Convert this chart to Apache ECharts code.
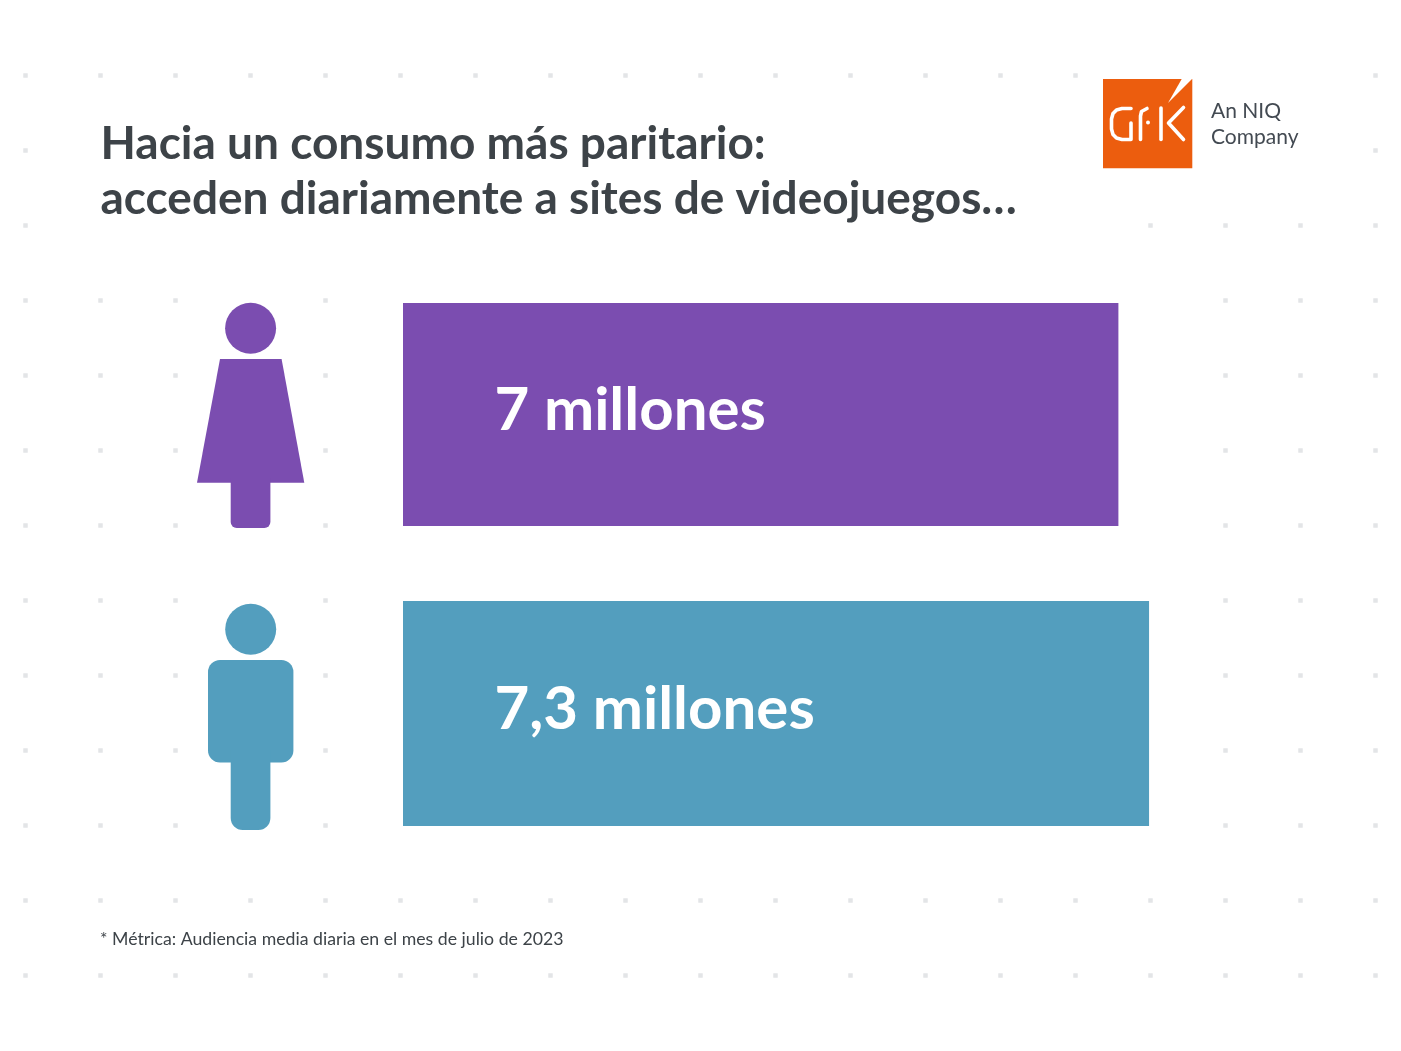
<!DOCTYPE html>
<html lang="es">
<head>
<meta charset="utf-8">
<title>Hacia un consumo más paritario</title>
<style>html,body{margin:0;padding:0;background:#fff}#c{width:1401px;height:1051px}</style>
<script src="https://cdn.jsdelivr.net/npm/echarts@6/dist/echarts.min.js"></script>
</head>
<body>
<div id="c"></div>
<script>
const titleLines = ['Hacia un consumo más paritario:', 'acceden diariamente a sites de videojuegos…'];
const footnote = '* Métrica: Audiencia media diaria en el mes de julio de 2023';
const categories = ['Mujeres', 'Hombres'];
const womenValues = [7, null];
const menValues = [null, 7.3];
const womenLabel = '7 millones';
const menLabel = '7,3 millones';
const womenColor = '#7b4db0';
const menColor = '#539ebe';
const logoLines = ['An NIQ', 'Company'];

// background dot pattern: columns present in each row of the 19 x 13 lattice
const allCols = [0,1,2,3,4,5,6,7,8,9,10,11,12,13,14,15,16,17,18];
const sideCols = [0,1,2,4,16,17,18];
const dotRows = [
  [0,1,2,3,4,5,6,7,8,9,10,11,12,13,14,18],
  [0,18],
  [0,15,16,17,18],
  sideCols, sideCols, sideCols, sideCols,
  sideCols, sideCols, sideCols, sideCols,
  allCols, allCols
];
const dots = [];
dotRows.forEach((cols, r) => cols.forEach(c => dots.push([c, r])));

const FONT = 'Lato, "Open Sans", sans-serif';
const DARK = '#3d4348';

function womanIcon(color) {
  return { type: 'group', z: 5, children: [
    { type: 'circle', shape: { cx: 250.6, cy: 328.3, r: 25.5 }, style: { fill: color } },
    { type: 'polygon', shape: { points: [[220, 359], [281.6, 359], [304.3, 482.8], [197, 482.8]] }, style: { fill: color } },
    { type: 'rect', shape: { x: 230.7, y: 478, width: 39.7, height: 50, r: [0, 0, 6, 6] }, style: { fill: color } }
  ]};
}
function manIcon(color) {
  return { type: 'group', z: 5, children: [
    { type: 'circle', shape: { cx: 250.7, cy: 629.3, r: 25.5 }, style: { fill: color } },
    { type: 'rect', shape: { x: 208, y: 660, width: 85.4, height: 102.4, r: 12 }, style: { fill: color } },
    { type: 'rect', shape: { x: 230.7, y: 750, width: 39.7, height: 80, r: [0, 0, 12, 12] }, style: { fill: color } }
  ]};
}
const logoStroke = { fill: null, stroke: '#fff', lineWidth: 3.6, lineCap: 'round', lineJoin: 'round' };
const logoLine = pts => ({ type: 'polyline', shape: { points: pts }, style: logoStroke });
const logo = { type: 'group', z: 5, children: [
  { type: 'rect', shape: { x: 1103, y: 79, width: 89.3, height: 89.3 }, style: { fill: '#ec5d0e' } },
  { type: 'polygon', shape: { points: [[1192.5, 78.5], [1182, 78.5], [1168, 103]] }, style: { fill: '#fff' } },
  logoLine([[1131, 108.5], [1122, 108.5], [1116.5, 110], [1113, 113.5], [1111.5, 119], [1111.5, 129], [1113, 134.5], [1116.5, 138], [1122, 139.5], [1131, 139.5], [1131, 123]]),
  logoLine([[1140.5, 139.5], [1140.5, 116], [1141.5, 111.5], [1147, 108.5]]),
  { type: 'circle', shape: { cx: 1148, cy: 122.5, r: 2 }, style: { fill: '#fff' } },
  logoLine([[1161, 108], [1161, 139.5]]),
  logoLine([[1183.5, 107.5], [1168.5, 123], [1183.5, 139.5]])
]};

function barLabel(text, dy) {
  return { show: true, formatter: text, position: [91.5, dy], align: 'left', verticalAlign: 'middle',
    fontFamily: FONT, fontSize: 60, fontWeight: 700, color: '#ffffff' };
}

const chart = echarts.init(document.getElementById('c'), null, { renderer: 'canvas' });
chart.setOption({
  animation: false,
  backgroundColor: '#ffffff',
  title: [
    { text: titleLines.join('\n'), left: 100.5, top: 117, padding: 0,
      textStyle: { fontFamily: FONT, fontSize: 46, fontWeight: 700, color: DARK, lineHeight: 55 } },
    { text: footnote, left: 100, top: 928, padding: 0,
      textStyle: { fontFamily: FONT, fontSize: 17.7, fontWeight: 400, color: DARK, lineHeight: 22 } },
    { text: logoLines.join('\n'), left: 1211, top: 98, padding: 0,
      textStyle: { fontFamily: FONT, fontSize: 21, fontWeight: 400, color: '#434a52', lineHeight: 26 } }
  ],
  grid: [
    { left: 403, top: 266.5, width: 817.6, height: 596 },
    { left: 25.5, top: 75.5, width: 1350, height: 900 }
  ],
  xAxis: [
    { type: 'value', gridIndex: 0, min: 0, max: 8, show: false },
    { type: 'value', gridIndex: 1, min: 0, max: 18, show: false }
  ],
  yAxis: [
    { type: 'category', gridIndex: 0, data: categories, inverse: true, show: false },
    { type: 'value', gridIndex: 1, min: 0, max: 12, inverse: true, show: false }
  ],
  series: [
    { type: 'scatter', xAxisIndex: 1, yAxisIndex: 1, data: dots, symbol: 'rect', symbolSize: 4.5,
      itemStyle: { color: '#dcdee1' }, silent: true, z: 1 },
    { type: 'bar', name: categories[0], xAxisIndex: 0, yAxisIndex: 0, barWidth: 223, barGap: '-100%', z: 3, silent: true,
      data: womenValues, itemStyle: { color: womenColor }, label: barLabel(womenLabel, 108) },
    { type: 'bar', name: categories[1], xAxisIndex: 0, yAxisIndex: 0, barWidth: 225, barGap: '-100%', z: 3, silent: true,
      data: menValues, itemStyle: { color: menColor }, label: barLabel(menLabel, 109) }
  ],
  graphic: [womanIcon(womenColor), manIcon(menColor), logo]
});
</script>
</body>
</html>
